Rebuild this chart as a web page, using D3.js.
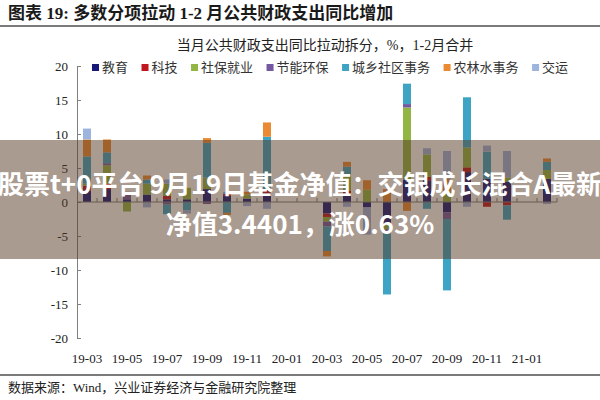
<!DOCTYPE html>
<html><head><meta charset="utf-8">
<script src="https://cdn.jsdelivr.net/npm/d3@7"></script>
<style>
html,body{margin:0;padding:0;background:#fff;}
svg{display:block;}
</style></head>
<body><svg id="c" width="600" height="400"></svg>
<script>
// ---------- data ----------
const months = ["19-03","19-04","19-05","19-06","19-07","19-08","19-09","19-10","19-11","19-12",
  "20-01","20-02","20-03","20-04","20-05","20-06","20-07","20-08","20-09","20-10","20-11","20-12",
  "21-01","21-02"];
const tickMonths = ["19-03","19-05","19-07","19-09","19-11","20-01","20-03","20-05","20-07","20-09","20-11","21-01"];
const seriesNames = ["教育","科技","社保就业","节能环保","城乡社区事务","农林水事务","交运"];
const edu      = [1.7, 1.9, 0.4, 1.1, 0.4, 0.4, 1.9, 0.9, 0.5, 1.3, null, null, -1.7, 1.2, -0.8, -3.4, 3.3, 3.2, -1.5, 4.4, 3.4, 3.0, null, 3.4];
const tech     = [0.7, 0.8, 0, 0, 0.5, 0, 0, 0.3, 0, 0.5, null, null, -0.5, 0.5, 0, 0, 0, 0.5, 0, 0.7, -0.7, -0.5, null, 0];
const social   = [0.3, 2.7, -1.4, 1.6, 1.8, 1.7, 1.7, 0, 0.6, 0, null, null, -0.7, 2.2, 1.8, -0.6, 10.6, 3.3, 1.5, 2.9, 0, 0.6, null, 1.3];
const energy   = [0, 0.3, 1.1, 0, -0.4, 0, -0.3, 0, 0, 0, null, null, -0.7, 0, 0, -0.6, 0.5, 0, -1.0, 0, 0, 0, null, 0];
const urban    = [4.0, 1.6, 0, 0.6, -1.4, -1.2, 5.1, -1.6, 0, 7.8, null, null, -3.6, 1.3, 0, -9.0, 3.0, -1.0, -10.5, 7.4, 4.0, -2.1, null, 1.2];
const farm     = [2.5, 1.9, 0, 0.6, 0, 0, 0.7, -0.3, 0.4, 2.1, null, null, -0.8, 0.7, 1.4, 1.9, -1.3, 0, 1.9, 0, 0, 0, null, 0.5];
const traffic  = [1.6, 0, 0, -0.8, 0.6, -0.5, 0, 0.25, -0.6, -1.0, null, null, 0, -0.7, -4.0, 0, 0, 0.9, 4.1, -0.7, 0.9, 3.9, null, -0.3];
const yTicks = [20, 15, 10, 5, 0, -5, -10, -15, -20];

const seriesValues = [edu, tech, social, energy, urban, farm, traffic];
const colors = ["#17197a", "#C0161E", "#93B543", "#7458A0", "#3DA4C4", "#EA8A32", "#9DB4DE"];

const titleText = "图表 19: 多数分项拉动 1-2 月公共财政支出同比增加";
const subTitle = "当月公共财政支出同比拉动拆分，%，1-2月合并";
const sourceText = "数据来源：Wind，兴业证券经济与金融研究院整理";
const overlayLines = ["股票t+0平台 9月19日基金净值：交银成长混合A最新", "净值3.4401，涨0.63%"];

// ---------- drawing ----------
const svg = d3.select("#c");
const serif = "'Liberation Serif','Times New Roman','Noto Sans CJK SC',serif";
const cjk = "'Noto Sans CJK SC','Liberation Serif',sans-serif";

const table = months.map((m, i) => {
  const row = { month: m };
  seriesNames.forEach((s, k) => { row[s] = seriesValues[k][i] == null ? 0 : seriesValues[k][i]; });
  return row;
});

const x = d3.scaleBand().domain(months).range([77, 557]).paddingInner(0.6).paddingOuter(0.3);
const y = d3.scaleLinear().domain([-20, 20]).range([338, 66]);
const color = d3.scaleOrdinal().domain(seriesNames).range(colors);

// title
svg.append("text").attr("x", 8).attr("y", 13).attr("dominant-baseline", "central")
  .attr("font-family", serif).attr("font-weight", "bold").attr("font-size", 17)
  .attr("fill", "#1a1a1a").text(titleText);
svg.append("line").attr("x1", 0).attr("x2", 600).attr("y1", 26).attr("y2", 26)
  .attr("stroke", "#7a7a7a").attr("stroke-width", 2);

// subtitle
svg.append("text").attr("x", 325).attr("y", 45).attr("text-anchor", "middle").attr("dominant-baseline", "central")
  .attr("font-family", serif).attr("font-size", 14).attr("fill", "#222").text(subTitle);

// legend
let lx = 92;
const lg = svg.append("g");
seriesNames.forEach((s, k) => {
  lg.append("rect").attr("x", lx).attr("y", 64).attr("width", 7).attr("height", 7).attr("fill", colors[k]);
  const t = lg.append("text").attr("x", lx + 10).attr("y", 67.5).attr("dominant-baseline", "central")
    .attr("font-family", serif).attr("font-size", 13).attr("fill", "#333").text(s);
  lx += 10 + t.node().getComputedTextLength() + 13.5;
});

// bars
const stacked = d3.stack().keys(seriesNames).offset(d3.stackOffsetDiverging)(table);
svg.append("g").selectAll("g").data(stacked).join("g")
  .attr("fill", d => color(d.key))
  .selectAll("rect").data(d => d.filter(p => p[1] !== p[0])).join("rect")
  .attr("x", d => x(d.data.month))
  .attr("width", x.bandwidth())
  .attr("y", d => y(Math.max(d[0], d[1])))
  .attr("height", d => Math.abs(y(d[0]) - y(d[1])));

// y axis
const yAxis = d3.axisLeft(y).tickValues(yTicks).tickFormat(d => String(d))
  .tickSizeInner(-4).tickSizeOuter(0).tickPadding(9);
const ga = svg.append("g").attr("transform", "translate(77,0)").call(yAxis);
ga.select(".domain").attr("stroke", "#808080");
ga.selectAll(".tick line").attr("stroke", "#808080");
ga.selectAll("text").attr("font-family", serif).attr("font-size", 13).attr("fill", "#222");

// zero line with category ticks
const gz = svg.append("g");
gz.append("line").attr("x1", 77).attr("x2", 557).attr("y1", y(0)).attr("y2", y(0))
  .attr("stroke", "#808080").attr("stroke-width", 1);
const bounds = months.map(m => x(m) - x.step() * 0.3).concat([557]);
gz.selectAll("line.t").data(bounds.slice(1)).join("line").attr("class", "t")
  .attr("x1", d => d).attr("x2", d => d).attr("y1", y(0)).attr("y2", y(0) - 4)
  .attr("stroke", "#808080");

// x labels
const xAxis = d3.axisBottom(x).tickValues(tickMonths).tickSize(0).tickPadding(2);
const gx = svg.append("g").attr("transform", "translate(0,352)").call(xAxis);
gx.select(".domain").remove();
gx.selectAll("text").attr("font-family", serif).attr("font-size", 13).attr("fill", "#222");

// footer
svg.append("line").attr("x1", 0).attr("x2", 600).attr("y1", 375).attr("y2", 375)
  .attr("stroke", "#7a7a7a").attr("stroke-width", 2);
svg.append("text").attr("x", 8).attr("y", 387).attr("dominant-baseline", "central")
  .attr("font-family", serif).attr("font-size", 13).attr("fill", "#222").text(sourceText);

// overlay banner
svg.append("rect").attr("x", 0).attr("y", 140).attr("width", 600).attr("height", 119)
  .attr("fill", "rgb(85,55,35)").attr("fill-opacity", 0.5);
overlayLines.forEach((t, i) => {
  svg.append("text").attr("x", 300).attr("y", 182 + i * 40).attr("text-anchor", "middle")
    .attr("dominant-baseline", "central").attr("font-family", cjk).attr("font-weight", "bold")
    .attr("font-size", 26).attr("fill", "#fff").text(t);
});
</script>
</body></html>
